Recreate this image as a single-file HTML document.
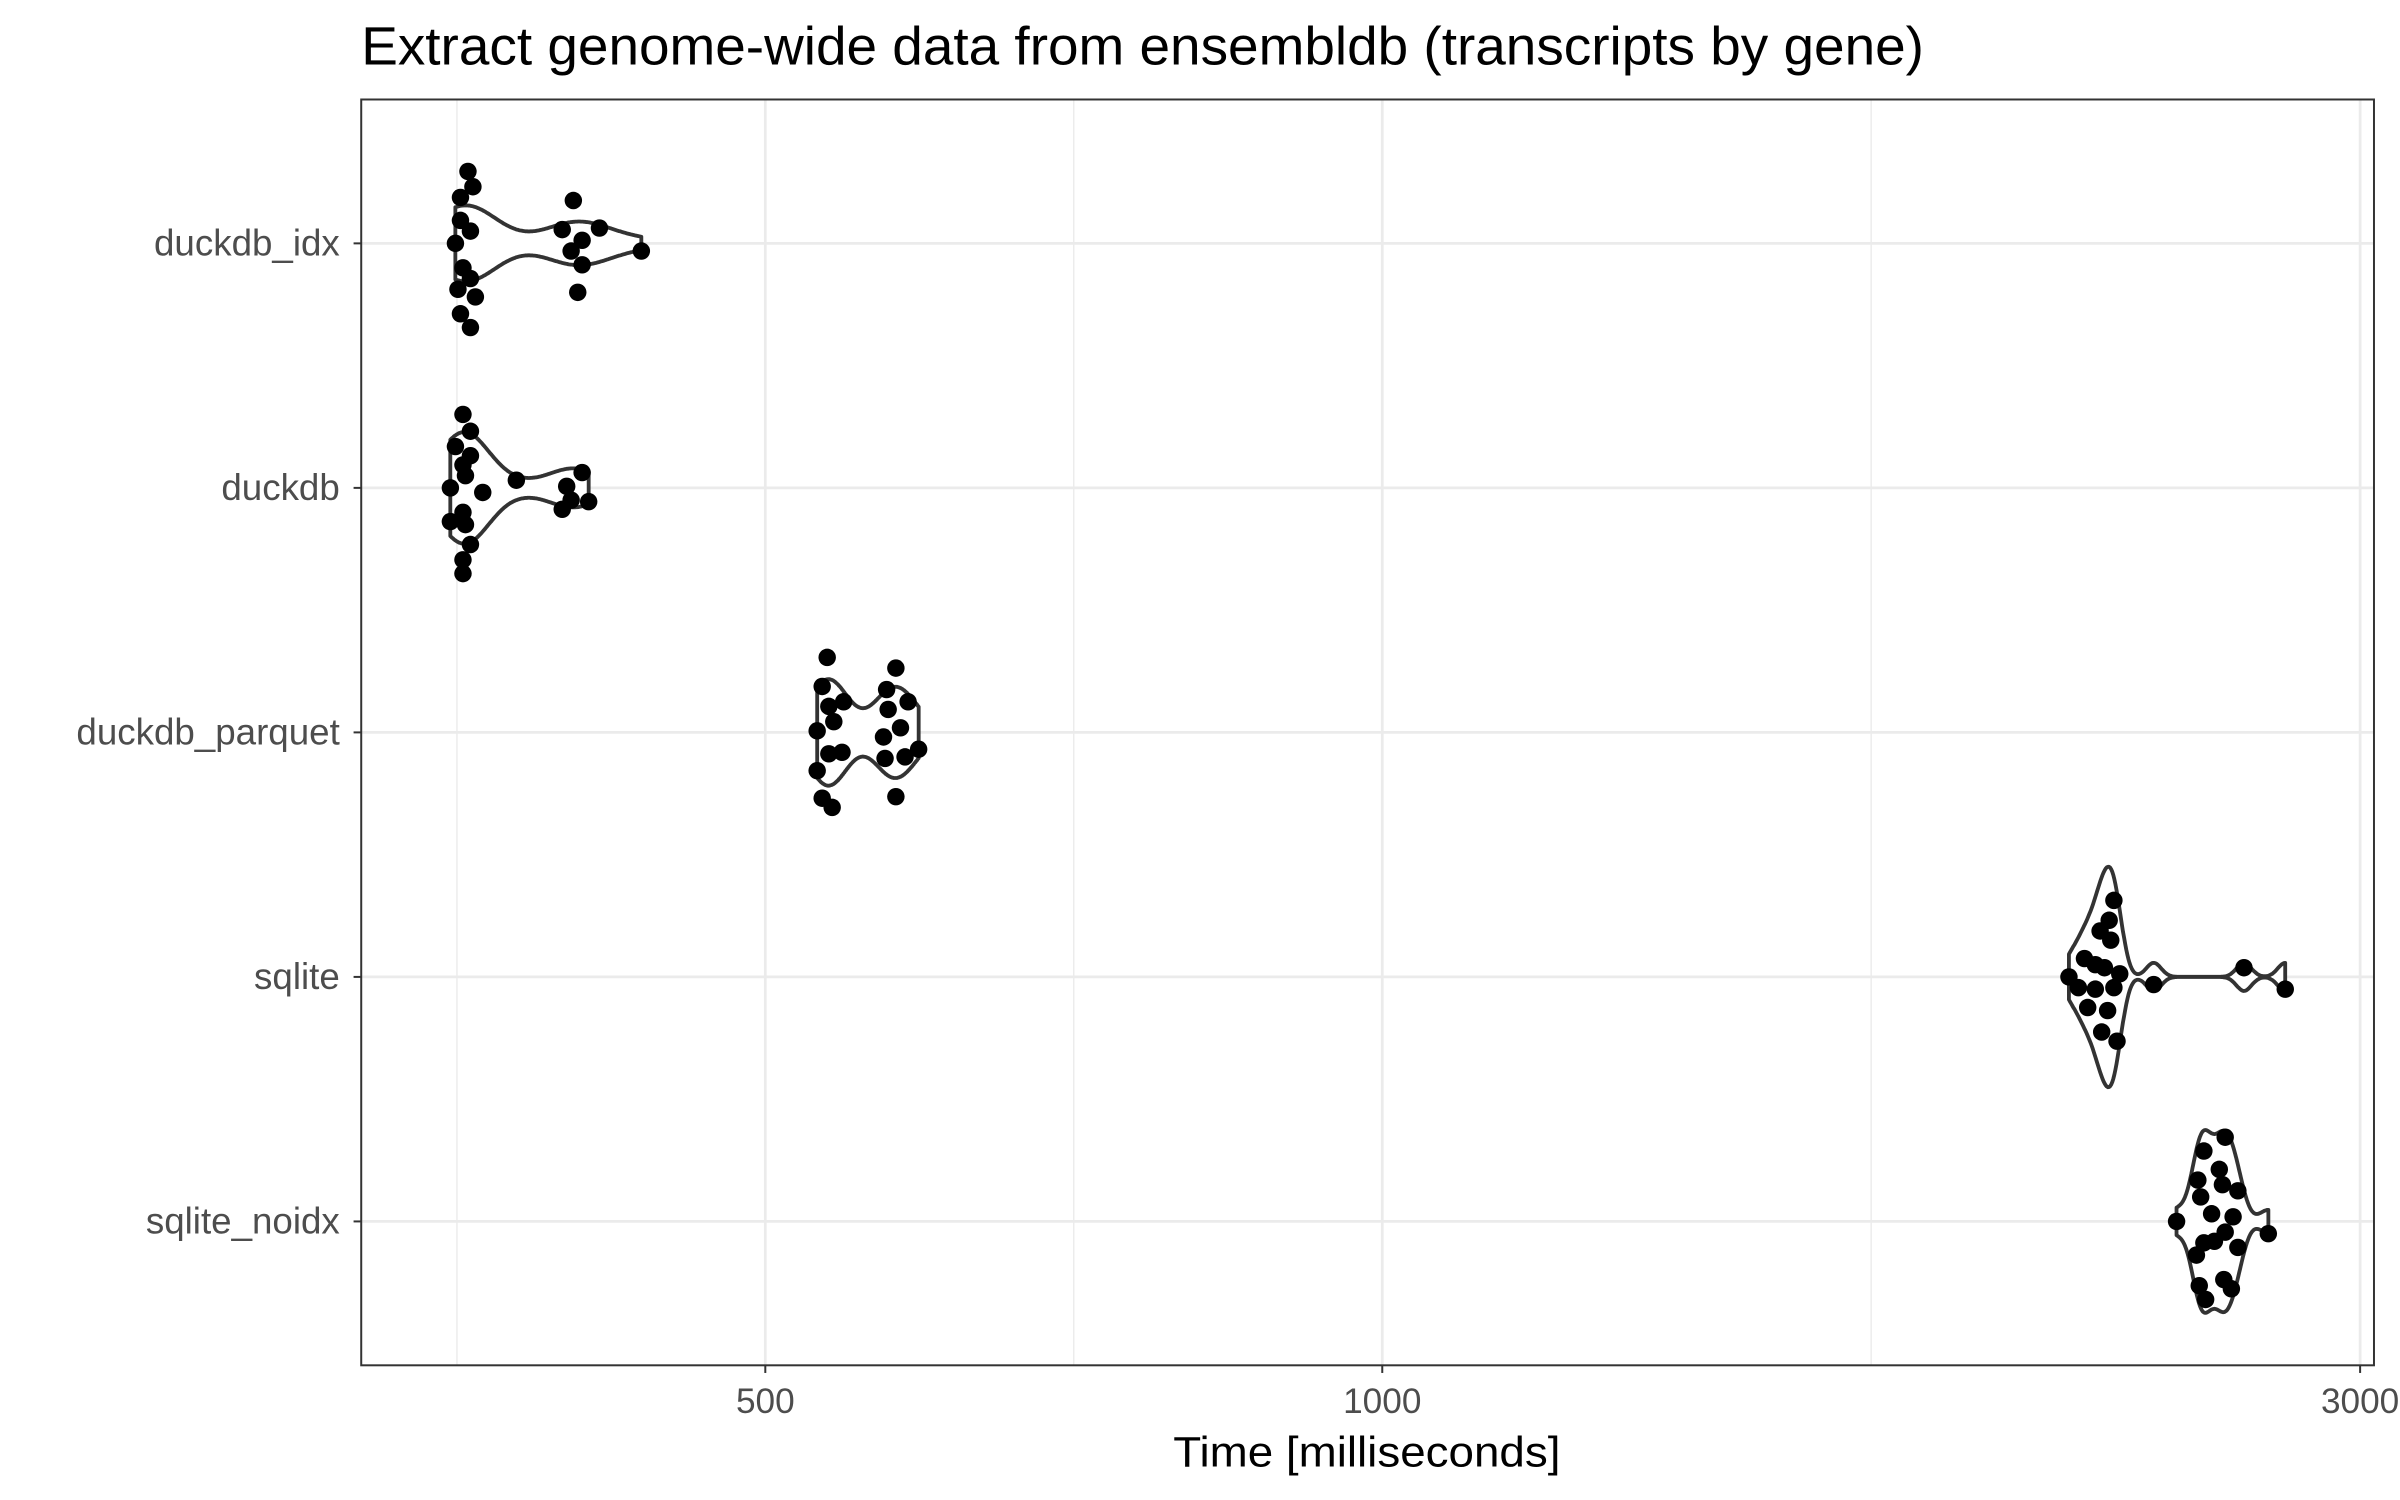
<!DOCTYPE html>
<html><head><meta charset="utf-8">
<style>
html,body{margin:0;padding:0;background:#fff;}
svg{display:block;font-family:"Liberation Sans",Arial,sans-serif;}
</style></head>
<body>
<svg id="chart" width="2400" height="1500" viewBox="0 0 1568 980" xmlns="http://www.w3.org/2000/svg">
<rect x="0" y="0" width="1568" height="980" fill="#fff"/>
<text x="236" y="42" font-size="35" fill="#000" textLength="1021" lengthAdjust="spacingAndGlyphs">Extract genome-wide data from ensembldb (transcripts by gene)</text>
<g id="grid"></g>
<g id="violins"></g>
<g id="points"></g>
<rect x="236" y="65" width="1315" height="827" fill="none" stroke="#333" stroke-width="1.3"/>
<g id="axes"></g>
<text x="893" y="958" font-size="28" fill="#000" text-anchor="middle" textLength="253" lengthAdjust="spacingAndGlyphs">Time [milliseconds]</text>
</svg>
<script>
const categories = ["duckdb_idx","duckdb","duckdb_parquet","sqlite","sqlite_noidx"];
const xTicks = [500,1000,3000];
const xTickLabels = ["500","1000","3000"];
const xMinor = [353.6,707.1,1732];
const timesIdx = [358,360,355,403,355,359,398,415,407,353,402,435,407,356,359,354,361,405,355,359];
const jitterIdx = [-47,-37,-30,-28,-15,-8,-9,-10,-2,0,5,5,14,16,23,30,35,32,46,55];
const timesDuck = [356,359,353,359,356,357,378,407,351,364,400,402,410,398,356,351,357,359,356,356];
const jitterDuck = [-48,-37,-27,-21,-15,-8,-5,-10,0,3,-1,8,9,14,16,22,24,37,47,56];
const timesParquet = [536,579,533,573,537,546,587,540,574,530,582,571,594,537,545,572,585,530,533,539,579];
const jitterParquet = [-49,-42,-30,-28,-17,-20,-20,-7,-15,-1,-3,3,11,14,13,17,16,25,43,49,42];
const timesSqlite = [2275,2263,2240,2267,2201,2228,2251,2290,2163,2186,2228,2275,2379,2209,2259,2244,2283,2633,2758];
const jitterSqlite = [-50,-37,-30,-24,-12,-8,-6,-2,0,7,8,7,5,20,22,36,42,-6,8];
const timesNoidx = [2578,2517,2561,2500,2570,2615,2508,2539,2601,2441,2578,2706,2517,2547,2496,2615,2504,2574,2596,2522];
const jitterNoidx = [-55,-46,-34,-27,-24,-20,-16,-5,-3,0,7,8,14,13,22,17,42,38,44,51];

const seriesTimes = [timesIdx,timesDuck,timesParquet,timesSqlite,timesNoidx];
const seriesJitter = [jitterIdx,jitterDuck,jitterParquet,jitterSqlite,jitterNoidx];

const NS="http://www.w3.org/2000/svg";
const PL=236,PR=1551,PT=65,PB=892;
const X0=500, PXPERDEC=1339;
function xScale(v){return 500+(Math.log10(v)-Math.log10(X0))*PXPERDEC;}
function yScale(i){return 159+i*159.75;}
function mk(tag,attrs,parent){const e=document.createElementNS(NS,tag);for(const k in attrs)e.setAttribute(k,attrs[k]);parent.appendChild(e);return e;}

const grid=document.getElementById('grid');
xMinor.forEach(v=>{
  const l=mk('line',{x1:xScale(v),x2:xScale(v),y1:PT,y2:PB,stroke:'#ebebeb','stroke-width':0.9},grid);
  
  
});
xTicks.forEach(v=>{
  const l=mk('line',{x1:xScale(v),x2:xScale(v),y1:PT,y2:PB,stroke:'#ebebeb','stroke-width':1.8},grid);
  
  
});
categories.forEach((c,i)=>{
  const l=mk('line',{x1:PL,x2:PR,y1:yScale(i),y2:yScale(i),stroke:'#ebebeb','stroke-width':1.8},grid);
  
  
});

function kde(vals){
  const lv=vals.map(v=>Math.log10(v)).sort((a,b)=>a-b);
  const n=lv.length, mean=lv.reduce((a,b)=>a+b,0)/n;
  const sd=Math.sqrt(lv.reduce((a,b)=>a+(b-mean)**2,0)/(n-1));
  const q=p=>{const h=(n-1)*p,lo=Math.floor(h);return lv[lo]+(h-lo)*((lv[lo+1]??lv[lo])-lv[lo]);};
  const iqr=q(0.75)-q(0.25);
  let s=Math.min(sd,iqr/1.34); if(!(s>0)) s=sd;
  const bw=0.9*s*Math.pow(n,-0.2);
  const pts=[]; const m=200;
  for(let k=0;k<=m;k++){
    const x=lv[0]+(lv[n-1]-lv[0])*k/m;
    let d=0; lv.forEach(t=>{const u=(x-t)/bw;d+=Math.exp(-0.5*u*u);});
    d/= n*bw*Math.sqrt(2*Math.PI);
    pts.push([Math.pow(10,x),d]);
  }
  return pts;
}
const dens=seriesTimes.map(kde);
const maxD=Math.max(...dens.map(p=>Math.max(...p.map(q=>q[1]))));
const vg=document.getElementById('violins');
dens.forEach((p,i)=>{
  const cy=yScale(i), half=72;
  const top=p.map(q=>[xScale(q[0]),cy-q[1]/maxD*half]);
  const bot=p.slice().reverse().map(q=>[xScale(q[0]),cy+q[1]/maxD*half]);
  const d='M'+top.concat(bot).map(a=>a[0].toFixed(1)+','+a[1].toFixed(1)).join('L')+'Z';
  const path=mk('path',{d:d,fill:'#fff',stroke:'#333','stroke-width':2.5,'stroke-linejoin':'round'},vg);
  
  
});

const pg=document.getElementById('points');
seriesTimes.forEach((arr,i)=>{
  arr.forEach((v,j)=>{
    const c=mk('circle',{cx:xScale(v),cy:yScale(i)+seriesJitter[i][j],r:5.7,fill:'#000'},pg);
    
    
  });
});

const ax=document.getElementById('axes');
xTicks.forEach((v,k)=>{
  const t=mk('line',{x1:xScale(v),x2:xScale(v),y1:PB,y2:PB+5,stroke:'#333','stroke-width':1.3},ax);
  
  
  const tx=mk('text',{x:xScale(v),y:PB+31,'font-size':23,fill:'#4d4d4d','text-anchor':'middle'},ax);
  tx.textContent=xTickLabels[k];
  
  
});
categories.forEach((c,i)=>{
  const t=mk('line',{x1:PL-5,x2:PL,y1:yScale(i),y2:yScale(i),stroke:'#333','stroke-width':1.3},ax);
  
  
  const tx=mk('text',{x:PL-14,y:yScale(i)+8,'font-size':24,fill:'#4d4d4d','text-anchor':'end'},ax);
  tx.textContent=c;
  
  
});
</script>
</body></html>
